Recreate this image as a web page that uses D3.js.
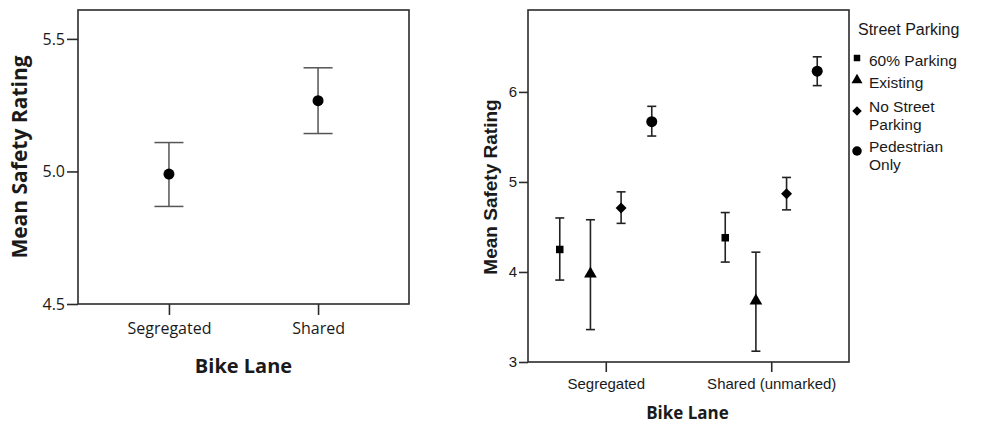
<!DOCTYPE html>
<html>
<head>
<meta charset="utf-8">
<script src="https://cdn.jsdelivr.net/npm/d3@7"></script>
<style>
  body { margin: 0; background: #fff; }
  text { fill: #1a1a1a; }
</style>
</head>
<body>
<svg id="chart" width="989" height="424"></svg>
<script>
// left panel data
var lanes1 = ["Segregated", "Shared"];
var mean1 = [4.99, 5.267];
var lo1 = [4.868, 5.143];
var hi1 = [5.109, 5.391];
var ticks1 = [4.5, 5.0, 5.5];

// right panel data
var lanes2 = ["Segregated", "Shared (unmarked)"];
var parking = ["60% Parking", "Existing", "No Street Parking", "Pedestrian Only"];
var legendLines = [["60% Parking"], ["Existing"], ["No Street", "Parking"], ["Pedestrian", "Only"]];
var mean2 = { "Segregated": [4.25, 3.98, 4.71, 5.67], "Shared (unmarked)": [4.38, 3.68, 4.87, 6.23] };
var lo2 = { "Segregated": [3.91, 3.36, 4.54, 5.51], "Shared (unmarked)": [4.11, 3.12, 4.69, 6.07] };
var hi2 = { "Segregated": [4.60, 4.58, 4.89, 5.84], "Shared (unmarked)": [4.66, 4.22, 5.05, 6.39] };
var ticks2 = [3, 4, 5, 6];

// square rotated 45deg, like the SPSS diamond
var diamond = {
  draw: function(ctx, size) {
    var r = Math.sqrt(size / 2);
    ctx.moveTo(0, -r); ctx.lineTo(r, 0); ctx.lineTo(0, r); ctx.lineTo(-r, 0); ctx.closePath();
  }
};
var shapes = [d3.symbolSquare, d3.symbolTriangle, diamond, d3.symbolCircle];
var symSize = [56, 70, 60, 95];

var svg = d3.select("#chart");
var dark = "#2b2b2b";

// ---------- left panel ----------
var p1 = { left: 78, right: 409, top: 10, bottom: 304 };
var y1 = d3.scaleLinear().domain([4.5, 5.609]).range([p1.bottom, p1.top]);
var x1 = d3.scalePoint().domain(lanes1).range([p1.left, p1.right]).padding(0.61);
var g1 = svg.append("g");

g1.append("rect")
  .attr("x", p1.left).attr("y", p1.top)
  .attr("width", p1.right - p1.left).attr("height", p1.bottom - p1.top)
  .attr("fill", "none").attr("stroke", dark).attr("stroke-width", 1.6);

var ya1 = g1.append("g").attr("transform", "translate(" + p1.left + ",0)")
  .call(d3.axisLeft(y1).tickValues(ticks1).tickFormat(d3.format(".1f")).tickSize(11).tickPadding(2));
var xa1 = g1.append("g").attr("transform", "translate(0," + p1.bottom + ")")
  .call(d3.axisBottom(x1).tickSize(11).tickPadding(8));
[ya1, xa1].forEach(function(a) {
  a.select(".domain").remove();
  a.selectAll("line").attr("stroke", dark).attr("stroke-width", 1.6);
  a.selectAll("text").style("font-family", "Open Sans").style("font-size", "16px").attr("fill", "#333");
});

var e1 = g1.selectAll(".err").data(lanes1).enter().append("g");
e1.append("line")
  .attr("x1", function(d) { return x1(d); }).attr("x2", function(d) { return x1(d); })
  .attr("y1", function(d, i) { return y1(lo1[i]); }).attr("y2", function(d, i) { return y1(hi1[i]); })
  .attr("stroke", "#555").attr("stroke-width", 1.5);
[lo1, hi1].forEach(function(arr) {
  e1.append("line")
    .attr("x1", function(d) { return x1(d) - 14.5; }).attr("x2", function(d) { return x1(d) + 14.5; })
    .attr("y1", function(d, i) { return y1(arr[i]); }).attr("y2", function(d, i) { return y1(arr[i]); })
    .attr("stroke", "#555").attr("stroke-width", 1.5);
});
e1.append("circle")
  .attr("cx", function(d) { return x1(d); })
  .attr("cy", function(d, i) { return y1(mean1[i]); })
  .attr("r", 5.5).attr("fill", "#000");

g1.append("text")
  .attr("x", (p1.left + p1.right) / 2).attr("y", 373)
  .attr("text-anchor", "middle")
  .style("font-family", "Open Sans").style("font-weight", "bold").style("font-size", "20px")
  .text("Bike Lane");
g1.append("text")
  .attr("transform", "translate(27," + 157 + ") rotate(-90)")
  .attr("text-anchor", "middle")
  .style("font-family", "Open Sans").style("font-weight", "bold").style("font-size", "21px")
  .text("Mean Safety Rating");

// ---------- right panel ----------
var p2 = { left: 528, right: 849, top: 10, bottom: 362 };
var y2 = d3.scaleLinear().domain([3, 6.91]).range([p2.bottom, p2.top]);
var x2 = d3.scalePoint().domain(lanes2).range([p2.left, p2.right]).padding(0.47);
var off = d3.scalePoint().domain(parking).range([-46, 46]);
var g2 = svg.append("g");

g2.append("rect")
  .attr("x", p2.left).attr("y", p2.top)
  .attr("width", p2.right - p2.left).attr("height", p2.bottom - p2.top)
  .attr("fill", "none").attr("stroke", dark).attr("stroke-width", 1.6);

var ya2 = g2.append("g").attr("transform", "translate(" + p2.left + ",0)")
  .call(d3.axisLeft(y2).tickValues(ticks2).tickFormat(d3.format("d")).tickSize(9).tickPadding(2));
var xa2 = g2.append("g").attr("transform", "translate(0," + p2.bottom + ")")
  .call(d3.axisBottom(x2).tickSize(10).tickPadding(6));
[ya2, xa2].forEach(function(a) {
  a.select(".domain").remove();
  a.selectAll("line").attr("stroke", dark).attr("stroke-width", 1.6);
  a.selectAll("text").style("font-family", "Liberation Sans").style("font-size", "15px").attr("fill", "#222");
});

var pts = [];
lanes2.forEach(function(l) {
  parking.forEach(function(p, j) {
    pts.push({ lane: l, park: p, j: j, m: mean2[l][j], lo: lo2[l][j], hi: hi2[l][j] });
  });
});
var e2 = g2.selectAll(".pt").data(pts).enter().append("g")
  .attr("transform", function(d) { return "translate(" + (x2(d.lane) + off(d.park)) + ",0)"; });
e2.append("line")
  .attr("y1", function(d) { return y2(d.lo); }).attr("y2", function(d) { return y2(d.hi); })
  .attr("stroke", "#222").attr("stroke-width", 1.6);
e2.append("line").attr("x1", -4.5).attr("x2", 4.5)
  .attr("y1", function(d) { return y2(d.lo); }).attr("y2", function(d) { return y2(d.lo); })
  .attr("stroke", "#222").attr("stroke-width", 1.6);
e2.append("line").attr("x1", -4.5).attr("x2", 4.5)
  .attr("y1", function(d) { return y2(d.hi); }).attr("y2", function(d) { return y2(d.hi); })
  .attr("stroke", "#222").attr("stroke-width", 1.6);
e2.append("path")
  .attr("transform", function(d) { return "translate(0," + y2(d.m) + ")"; })
  .attr("d", function(d) { return d3.symbol().type(shapes[d.j]).size(symSize[d.j])(); })
  .attr("fill", "#000");

g2.append("text")
  .attr("x", (p2.left + p2.right) / 2 - 1).attr("y", 419)
  .attr("text-anchor", "middle")
  .style("font-family", "Open Sans").style("font-weight", "bold").style("font-size", "17px")
  .text("Bike Lane");
g2.append("text")
  .attr("transform", "translate(497," + 187 + ") rotate(-90)")
  .attr("text-anchor", "middle")
  .style("font-family", "Liberation Sans").style("font-weight", "bold").style("font-size", "19px")
  .text("Mean Safety Rating");

// legend
var lg = svg.append("g").attr("transform", "translate(857,0)");
lg.append("text").attr("x", 1).attr("y", 35)
  .style("font-family", "Liberation Sans").style("font-size", "16px")
  .text("Street Parking");
var legY = [61, 83, 107, 147];
var items = lg.selectAll(".li").data(parking).enter().append("g")
  .attr("transform", function(d, i) { return "translate(0," + legY[i] + ")"; });
items.append("path")
  .attr("transform", function(d, i) { return "translate(0," + (i < 2 ? -3 : 4) + ")"; })
  .attr("d", function(d, i) { return d3.symbol().type(shapes[i]).size(symSize[i] * 0.75)(); })
  .attr("fill", "#000");
items.selectAll("text").data(function(d, i) { return legendLines[i]; }).enter().append("text")
  .attr("x", 12).attr("y", function(d, k) { return k * 17.5; }).attr("dy", "0.35em")
  .style("font-family", "Liberation Sans").style("font-size", "15.5px")
  .text(function(d) { return d; });
</script>
</body>
</html>
